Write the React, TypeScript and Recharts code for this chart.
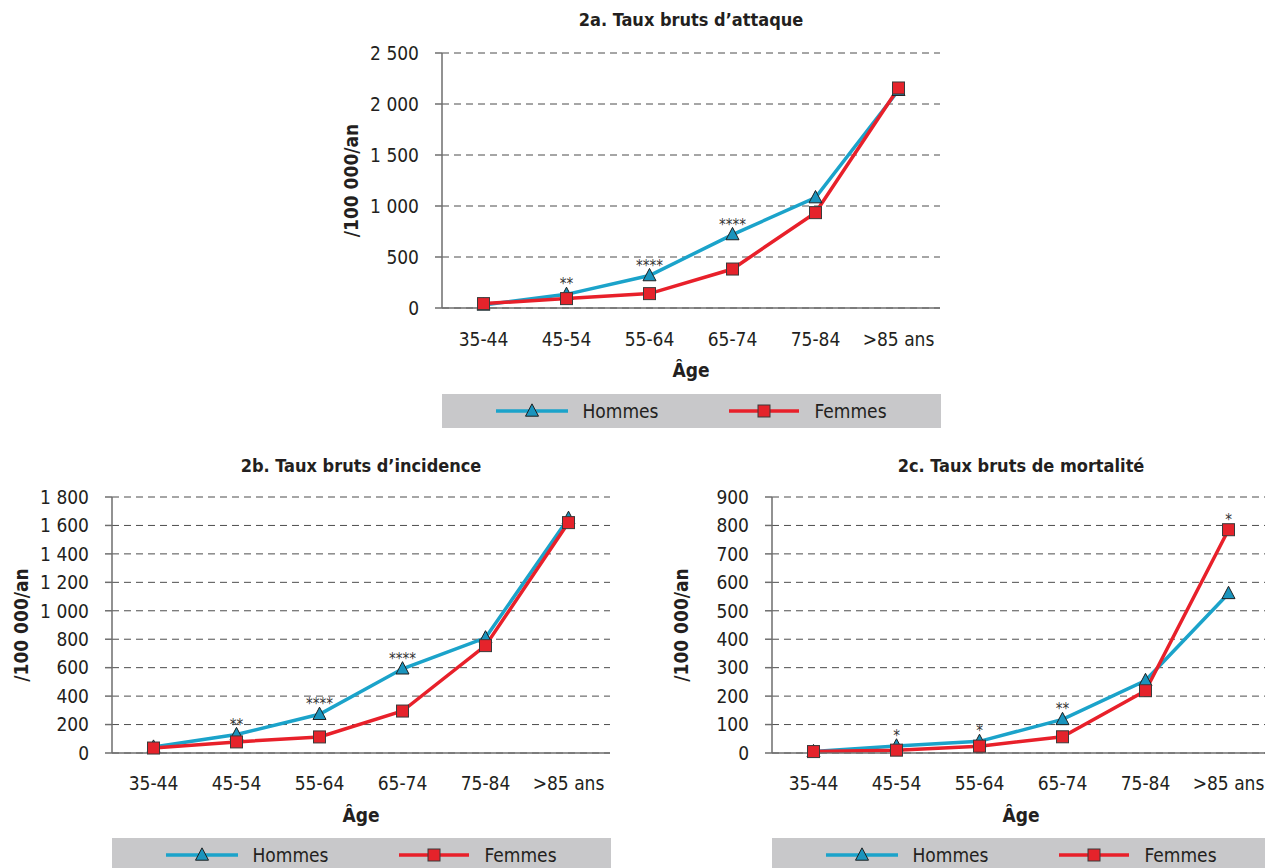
import React from 'react';
import { LineChart, Line, XAxis, YAxis, CartesianGrid, Legend, LabelList, Label } from 'recharts';

const ageGroups = ['35-44', '45-54', '55-64', '65-74', '75-84', '>85 ans'];
const categoryEdges = [0, 1, 2, 3, 4, 5, 6];
const categoryCenters = [0.5, 1.5, 2.5, 3.5, 4.5, 5.5];

const attaqueHommes = [30, 134, 318, 720, 1082, 2135];
const attaqueFemmes = [43, 92, 141, 382, 935, 2157];
const attaqueStarsHommes = ['', '**', '****', '****', '', ''];
const attaqueStarsFemmes = ['', '', '', '', '', ''];
const attaqueTicks = [0, 500, 1000, 1500, 2000, 2500];

const incidenceHommes = [42, 130, 272, 592, 810, 1650];
const incidenceFemmes = [35, 78, 113, 295, 755, 1620];
const incidenceStarsHommes = ['', '**', '****', '****', '', ''];
const incidenceStarsFemmes = ['', '', '', '', '', ''];
const incidenceTicks = [0, 200, 400, 600, 800, 1000, 1200, 1400, 1600, 1800];

const mortaliteHommes = [5, 25, 41, 118, 255, 561];
const mortaliteFemmes = [5, 10, 24, 57, 219, 785];
const mortaliteStarsHommes = ['', '*', '*', '**', '', ''];
const mortaliteStarsFemmes = ['', '', '', '', '', '*'];
const mortaliteTicks = [0, 100, 200, 300, 400, 500, 600, 700, 800, 900];

const FONT = '"DejaVu Sans Condensed", "Liberation Sans Narrow", "Liberation Sans", Arial, sans-serif';
const TEAL = '#1ba3ca';
const RED = '#e8202a';
const TEXT = '#231f20';
const AXIS = '#6e6e6e';

const fmt = (v: number) => String(v).replace(/\B(?=(\d{3})+(?!\d))/g, ' ');

function Triangle(props: any) {
  const { cx, cy } = props;
  if (cx == null || cy == null) return null;
  const s = 6.5;
  return (
    <polygon
      points={`${cx},${cy - s * 1.1} ${cx - s},${cy + s * 0.8} ${cx + s},${cy + s * 0.8}`}
      fill="#1a94bd"
      stroke="#1f1f1f"
      strokeWidth={1}
    />
  );
}

function Square(props: any) {
  const { cx, cy } = props;
  if (cx == null || cy == null) return null;
  return <rect x={cx - 6} y={cy - 6} width={12} height={12} fill="#e5232b" stroke="#3a3a3a" strokeWidth={1} />;
}

function LegendBox() {
  return (
    <div
      style={{
        width: 499,
        height: 34,
        background: '#c8c8ca',
        display: 'flex',
        alignItems: 'center',
        justifyContent: 'center',
        fontFamily: FONT,
        fontSize: 19,
        color: TEXT,
      }}
    >
      <svg width={72} height={18} style={{ display: 'block' }}>
        <line x1={0} y1={9} x2={72} y2={9} stroke={TEAL} strokeWidth={3.5} />
        <Triangle cx={36} cy={9} />
      </svg>
      <span style={{ marginLeft: 14, marginRight: 71 }}>Hommes</span>
      <svg width={70} height={18} style={{ display: 'block' }}>
        <line x1={0} y1={9} x2={70} y2={9} stroke={RED} strokeWidth={3.5} />
        <Square cx={35} cy={9} />
      </svg>
      <span style={{ marginLeft: 15 }}>Femmes</span>
    </div>
  );
}

type PanelProps = {
  title: string;
  left: number;
  top: number;
  height: number;
  marginTop: number;
  titleTop: number;
  legendTop: number;
  labelAxisHeight: number;
  labelMargin: number;
  hommes: number[];
  femmes: number[];
  starsH: string[];
  starsF: string[];
  yTicks: number[];
};

function Panel(p: PanelProps) {
  const data = ageGroups.map((g, i) => ({
    pos: categoryCenters[i],
    age: g,
    hommes: p.hommes[i],
    femmes: p.femmes[i],
    starsH: p.starsH[i],
    starsF: p.starsF[i],
  }));
  const yMax = p.yTicks[p.yTicks.length - 1];
  const width = 620;
  const starStyle = { fontSize: 15, fill: '#333', fontFamily: FONT };
  return (
    <div style={{ position: 'absolute', left: p.left, top: p.top, width, height: p.height }}>
      <div
        style={{
          position: 'absolute',
          left: 112,
          width: 498,
          top: p.titleTop,
          textAlign: 'center',
          fontFamily: FONT,
          fontWeight: 'bold',
          fontSize: 18,
          lineHeight: '26px',
          color: TEXT,
          zIndex: 2,
        }}
      >
        {p.title}
      </div>
      <LineChart
        width={width}
        height={p.height}
        data={data}
        margin={{ top: p.marginTop, right: 10, left: 0, bottom: 0 }}
      >
        <CartesianGrid
          xAxisId="grid"
          yAxisId="left"
          vertical={false}
          stroke="#4d4d4d"
          strokeDasharray="7 5"
        />
        <XAxis
          xAxisId="grid"
          type="number"
          dataKey="pos"
          domain={[0, 6]}
          ticks={categoryEdges}
          interval={0}
          tick={false}
          height={7}
          tickSize={7}
          axisLine={{ stroke: AXIS, strokeWidth: 1.5 }}
          tickLine={{ stroke: AXIS, strokeWidth: 1.5 }}
        />
        <XAxis
          xAxisId="lab"
          type="number"
          dataKey="pos"
          domain={[0, 6]}
          ticks={categoryCenters}
          interval={0}
          height={p.labelAxisHeight}
          axisLine={false}
          tickLine={false}
          tickSize={0}
          tickMargin={p.labelMargin}
          tickFormatter={(v: number) => ageGroups[Math.floor(v)]}
          tick={{ fontSize: 19, fill: TEXT, fontFamily: FONT }}
        >
          <Label
            content={(lp: any) => {
              const vb = lp.viewBox || {};
              return (
                <text
                  x={vb.x + vb.width / 2}
                  y={vb.y + 62}
                  textAnchor="middle"
                  fontFamily={FONT}
                  fontWeight="bold"
                  fontSize={19}
                  fill={TEXT}
                >
                  Âge
                </text>
              );
            }}
          />
        </XAxis>
        <YAxis
          yAxisId="left"
          width={112}
          domain={[0, yMax]}
          ticks={p.yTicks}
          interval={0}
          tickFormatter={fmt}
          tickSize={7}
          tickMargin={16}
          axisLine={{ stroke: AXIS, strokeWidth: 1.5 }}
          tickLine={{ stroke: AXIS, strokeWidth: 1.5 }}
          tick={{ fontSize: 19, fill: TEXT, fontFamily: FONT }}
        >
          <Label
            content={(lp: any) => {
              const vb = lp.viewBox || {};
              const x = vb.x + 21;
              const y = vb.y + vb.height / 2;
              return (
                <text
                  x={x}
                  y={y}
                  transform={`rotate(-90 ${x} ${y})`}
                  textAnchor="middle"
                  dominantBaseline="central"
                  fontFamily={FONT}
                  fontWeight="bold"
                  fontSize={19}
                  fill={TEXT}
                >
                  /100 000/an
                </text>
              );
            }}
          />
        </YAxis>
        <YAxis
          yAxisId="right"
          orientation="right"
          width={0}
          domain={[0, yMax]}
          tick={false}
          tickLine={false}
          axisLine={{ stroke: AXIS, strokeWidth: 1.5 }}
        />
        <Legend
          verticalAlign="middle"
          align="center"
          layout="horizontal"
          wrapperStyle={{ top: p.legendTop, left: 112, width: 499, height: 34, bottom: 'auto' }}
          content={() => <LegendBox />}
        />
        <Line
          xAxisId="grid"
          yAxisId="left"
          type="linear"
          dataKey="hommes"
          name="Hommes"
          stroke={TEAL}
          strokeWidth={3.5}
          dot={(dp: any) => <Triangle key={`t-${dp.index}`} {...dp} />}
          activeDot={false}
          isAnimationActive={false}
        >
          <LabelList dataKey="starsH" position="top" offset={5} style={starStyle} />
        </Line>
        <Line
          xAxisId="grid"
          yAxisId="left"
          type="linear"
          dataKey="femmes"
          name="Femmes"
          stroke={RED}
          strokeWidth={3.5}
          dot={(dp: any) => <Square key={`s-${dp.index}`} {...dp} />}
          activeDot={false}
          isAnimationActive={false}
        >
          <LabelList dataKey="starsF" position="top" offset={5} style={starStyle} />
        </Line>
      </LineChart>
    </div>
  );
}

export default function App() {
  return (
    <div
      style={{
        position: 'absolute',
        left: 0,
        top: 0,
        width: 1265,
        height: 868,
        overflow: 'hidden',
        background: '#ffffff',
      }}
    >
      <Panel
        title="2a. Taux bruts d’attaque"
        left={330}
        top={0}
        height={435}
        marginTop={53}
        titleTop={7}
        legendTop={394}
        labelAxisHeight={120}
        labelMargin={18}
        hommes={attaqueHommes}
        femmes={attaqueFemmes}
        starsH={attaqueStarsHommes}
        starsF={attaqueStarsFemmes}
        yTicks={attaqueTicks}
      />
      <Panel
        title="2b. Taux bruts d’incidence"
        left={0}
        top={450}
        height={418}
        marginTop={47}
        titleTop={3}
        legendTop={388}
        labelAxisHeight={108}
        labelMargin={17}
        hommes={incidenceHommes}
        femmes={incidenceFemmes}
        starsH={incidenceStarsHommes}
        starsF={incidenceStarsFemmes}
        yTicks={incidenceTicks}
      />
      <Panel
        title="2c. Taux bruts de mortalité"
        left={660}
        top={450}
        height={418}
        marginTop={47}
        titleTop={3}
        legendTop={388}
        labelAxisHeight={108}
        labelMargin={17}
        hommes={mortaliteHommes}
        femmes={mortaliteFemmes}
        starsH={mortaliteStarsHommes}
        starsF={mortaliteStarsFemmes}
        yTicks={mortaliteTicks}
      />
    </div>
  );
}
